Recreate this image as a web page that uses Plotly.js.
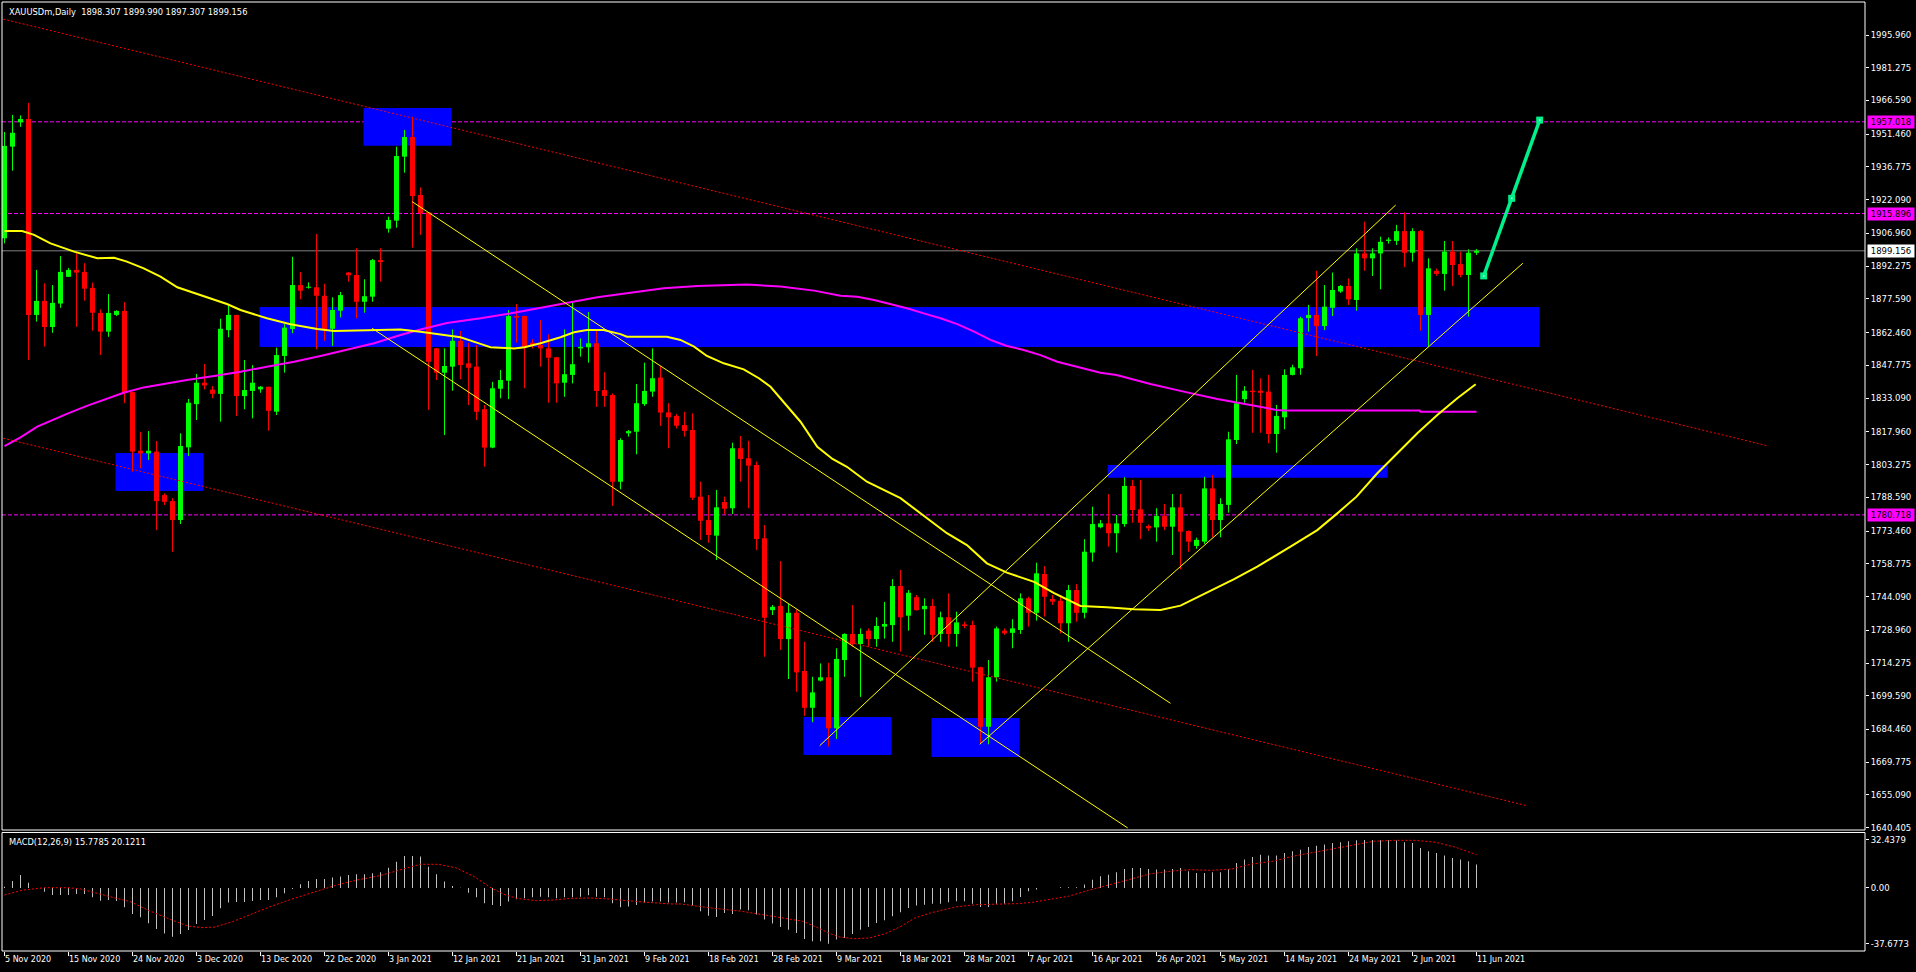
<!DOCTYPE html>
<html>
<head>
<meta charset="utf-8">
<script src="https://cdn.plot.ly/plotly-3.0.1.min.js"></script>
<style>
html,body{margin:0;padding:0;background:#000;overflow:hidden;}
#chart{width:1916px;height:972px;}
</style>
</head>
<body>
<div id="chart"></div>
<script>
// ---------- DATA ----------
const dateLabels = ["5 Nov 2020","15 Nov 2020","24 Nov 2020","3 Dec 2020","13 Dec 2020","22 Dec 2020","3 Jan 2021","12 Jan 2021","21 Jan 2021","31 Jan 2021","9 Feb 2021","18 Feb 2021","28 Feb 2021","9 Mar 2021","18 Mar 2021","28 Mar 2021","7 Apr 2021","16 Apr 2021","26 Apr 2021","5 May 2021","14 May 2021","24 May 2021","2 Jun 2021","11 Jun 2021"];
const barsPerLabel = 8;

const open = [
1904.8,1945.9,1956.8,1958.3,1870.4,1876.7,1865.0,1875.5,1887.5,1890.6,
1889.7,1882.5,1871.3,1862.9,1870.4,1872.2,1835.8,1809.5,1808.3,1809.1,
1789.6,1786.9,1778.4,1811.0,1830.4,1840.0,1836.9,1835.0,1863.6,1870.4,
1834.0,1836.3,1837.0,1838.2,1827.0,1852.0,1864.1,1883.8,1882.6,1882.8,
1879.0,1864.2,1872.3,1889.4,1888.3,1876.3,1878.6,1895.0,1909.1,1912.7,
1941.4,1950.2,1924.2,1916.3,1855.4,1844.5,1847.2,1858.8,1848.7,1847.2,
1828.1,1810.9,1837.3,1840.9,1869.9,1869.9,1857.9,1856.9,1855.4,1851.4,
1840.0,1843.5,1855.4,1855.9,1857.7,1836.7,1834.5,1795.6,1817.3,1818.0,
1830.4,1836.0,1842.3,1826.7,1825.1,1821.0,1818.8,1788.9,1778.4,1771.4,
1786.5,1783.7,1810.6,1806.1,1803.1,1770.2,1738.0,1739.9,1725.0,1736.8,
1710.7,1694.2,1706.4,1707.9,1685.0,1715.6,1727.3,1722.8,1728.8,1725.0,
1730.6,1731.3,1748.8,1735.5,1743.8,1738.4,1739.9,1727.3,1734.8,1727.3,
1731.6,1731.3,1712.4,1685.7,1707.9,1728.8,1727.8,1729.1,1743.3,1736.8,
1754.2,1743.0,1742.2,1732.1,1747.0,1736.8,1763.8,1775.2,1776.9,1772.5,
1776.6,1793.7,1783.2,1775.7,1775.1,1780.2,1775.4,1784.1,1773.5,1766.8,
1768.7,1792.6,1778.4,1785.2,1814.3,1832.6,1836.4,1836.4,1836.0,1817.0,
1824.5,1843.5,1846.5,1869.0,1870.4,1865.4,1873.6,1880.9,1883.4,1877.1,
1898.0,1895.8,1898.0,1903.6,1903.6,1908.0,1898.3,1908.0,1870.4,1890.2,
1888.8,1898.8,1893.2,1888.3,1898.307];
const high = [
1952.5,1960.1,1959.9,1965.5,1890.6,1884.6,1883.8,1896.8,1891.5,1898.0,
1893.6,1884.9,1872.9,1879.8,1872.5,1876.2,1836.0,1818.0,1818.3,1813.9,
1790.4,1788.2,1817.3,1832.7,1843.9,1848.4,1838.5,1868.7,1874.4,1870.4,
1850.2,1847.9,1838.5,1838.2,1855.7,1866.3,1896.5,1889.7,1885.0,1906.7,
1884.4,1878.3,1880.7,1889.7,1900.3,1886.4,1895.5,1900.3,1914.5,1945.9,
1953.4,1959.3,1927.6,1916.5,1855.6,1855.4,1863.9,1863.2,1857.9,1856.9,
1830.0,1840.4,1845.7,1872.6,1875.3,1870.1,1859.5,1868.1,1861.7,1851.6,
1863.9,1875.9,1859.9,1871.7,1863.3,1844.7,1835.2,1815.1,1818.8,1839.4,
1849.0,1855.4,1847.5,1830.8,1826.0,1827.0,1826.3,1795.6,1789.6,1791.9,
1788.9,1813.1,1816.1,1814.0,1804.6,1776.2,1740.3,1760.0,1740.7,1738.4,
1723.8,1708.1,1714.1,1714.4,1720.9,1727.6,1740.3,1729.8,1729.8,1734.8,
1741.7,1751.9,1756.0,1747.0,1744.8,1743.3,1742.9,1737.3,1745.5,1737.3,
1732.8,1733.3,1712.6,1715.6,1730.6,1729.8,1733.9,1745.5,1744.0,1759.3,
1757.8,1744.8,1744.8,1749.3,1749.7,1769.8,1784.4,1778.4,1790.1,1780.7,
1797.6,1796.4,1796.4,1776.4,1783.7,1785.6,1790.1,1790.1,1773.7,1770.5,
1797.8,1798.6,1788.2,1818.0,1843.5,1838.5,1845.7,1842.0,1843.5,1830.0,
1846.0,1848.1,1869.6,1874.9,1890.2,1883.8,1889.4,1883.8,1886.8,1900.3,
1912.2,1900.3,1905.5,1905.2,1910.8,1916.4,1909.3,1908.5,1895.8,1891.2,
1903.6,1903.6,1898.8,1899.8,1899.990];
const low = [
1902.5,1935.1,1954.8,1850.2,1867.4,1856.2,1862.4,1873.6,1887.4,1865.1,
1876.8,1863.3,1852.4,1860.6,1869.9,1830.8,1800.1,1801.6,1805.3,1773.9,
1785.2,1764.2,1776.6,1807.1,1823.3,1837.0,1833.0,1822.5,1860.4,1825.1,
1828.1,1824.0,1835.5,1818.5,1825.5,1844.5,1862.2,1877.4,1882.2,1855.0,
1858.8,1856.5,1869.3,1885.3,1868.9,1871.4,1876.3,1885.3,1907.3,1909.5,
1934.2,1900.6,1906.3,1827.8,1841.2,1816.5,1836.4,1841.5,1830.0,1823.3,
1802.3,1810.6,1833.0,1832.6,1857.9,1837.5,1855.4,1847.2,1831.0,1831.0,
1833.7,1839.7,1851.7,1849.0,1829.2,1829.2,1784.7,1792.2,1815.8,1807.9,
1829.6,1833.7,1820.6,1810.6,1819.5,1815.8,1787.4,1769.5,1768.2,1760.5,
1781.1,1781.1,1795.6,1783.7,1765.0,1717.1,1735.8,1720.1,1707.1,1701.4,
1690.6,1687.7,1706.0,1676.8,1680.2,1708.1,1721.6,1699.1,1721.6,1721.6,
1725.2,1723.8,1719.4,1728.8,1737.8,1726.9,1723.8,1723.8,1721.6,1721.6,
1729.9,1705.9,1678.3,1677.8,1705.9,1726.9,1720.9,1727.3,1730.6,1733.3,
1735.1,1740.3,1727.6,1723.8,1732.8,1734.3,1759.7,1774.7,1766.5,1763.8,
1775.4,1777.2,1769.8,1773.5,1768.7,1773.9,1762.7,1756.3,1764.2,1765.5,
1767.7,1770.7,1770.7,1781.7,1812.5,1831.0,1817.6,1817.6,1812.8,1808.6,
1819.1,1843.3,1843.5,1862.9,1852.0,1863.6,1869.9,1880.3,1874.9,1872.3,
1890.2,1887.9,1881.9,1902.4,1901.8,1891.8,1894.3,1863.3,1856.2,1888.0,
1881.3,1883.4,1887.3,1869.6,1897.307];
const close = [
1946.2,1952.1,1958.3,1870.4,1876.7,1865.0,1875.8,1889.7,1890.6,1889.4,
1882.2,1871.4,1862.9,1871.3,1872.2,1835.5,1809.1,1808.3,1809.5,1786.9,
1786.6,1778.4,1811.6,1831.0,1840.0,1838.8,1835.0,1864.2,1870.4,1834.0,
1836.7,1840.0,1838.2,1827.4,1852.4,1864.7,1883.8,1881.3,1882.9,1879.0,
1863.9,1872.6,1879.3,1888.2,1876.3,1878.8,1895.0,1894.1,1913.0,1941.7,
1950.2,1923.7,1916.0,1849.4,1844.5,1847.5,1858.8,1847.9,1846.7,1827.0,
1810.9,1837.5,1841.2,1869.9,1869.2,1856.1,1856.9,1855.4,1851.2,1839.7,
1843.8,1848.3,1856.1,1857.7,1836.3,1834.1,1795.6,1814.3,1818.3,1830.8,
1836.3,1842.0,1826.6,1824.5,1820.7,1818.4,1788.4,1778.1,1771.7,1784.1,
1783.5,1810.6,1805.8,1802.8,1769.9,1734.6,1739.5,1725.0,1736.8,1710.1,
1694.2,1701.1,1707.9,1685.0,1716.1,1727.3,1722.8,1727.3,1725.0,1730.9,
1731.8,1748.8,1734.8,1745.8,1738.0,1739.9,1726.9,1734.8,1727.3,1732.5,
1730.9,1712.2,1685.7,1707.9,1729.8,1727.6,1729.8,1743.3,1736.8,1754.5,
1744.0,1741.8,1732.1,1747.0,1736.8,1764.2,1776.6,1776.9,1772.5,1776.9,
1793.7,1782.9,1777.2,1774.7,1780.2,1775.4,1784.1,1773.2,1768.7,1769.5,
1792.6,1778.4,1785.6,1814.6,1830.8,1836.4,1835.8,1835.5,1817.0,1825.1,
1843.5,1846.9,1868.9,1870.4,1865.4,1874.1,1881.6,1883.4,1877.4,1898.0,
1895.8,1898.0,1903.2,1904.2,1908.0,1898.3,1908.0,1870.4,1891.3,1888.8,
1898.8,1892.8,1888.3,1898.3,1899.156];

// moving averages (bar position, value)
const maYellowBars = [0,2.2,3.7,5.75,8.7,11.6,13.7,15.3,17.4,19.5,21.6,24.5,27.8,29.5,32.8,35.75,39.1,41.2,45.3,49.5,52,53.7,57,59.5,60.75,63.7,65,67,69.5,71.2,72.8,74.9,77,77.8,82.8,84.5,86.2,87.8,89.9,92.4,94.3,95.75,97.8,99.5,101.6,103.5,105.3,107.8,112,114.5,117.8,120.3,122.8,125.3,128.7,131.2,134.5,137.8,141.2,144.5,147,153.7,156.6,160.75,164.1,166.6,169,171.6,174.1,176.6,179.1,181.6,183.9];
const maYellowVals = [1908.05,1908.05,1906.3,1902.5,1898.8,1895.8,1896.0,1894.3,1891.3,1887.6,1882.8,1879.3,1875.3,1872.6,1868.9,1866.2,1864.1,1863.2,1863.6,1863.9,1862.9,1862.1,1860.4,1857.4,1855.9,1855.4,1855.9,1857.7,1860.4,1862.6,1863.6,1863.6,1861.8,1860.6,1860.6,1859.2,1856.2,1852.0,1848.7,1846.0,1842.0,1838.2,1829.8,1822.5,1811.3,1805.8,1802.3,1795.6,1788.2,1781.4,1772.5,1767.2,1759.0,1754.8,1750.7,1745.6,1739.9,1739.3,1738.4,1738.1,1740.0,1751.9,1757.5,1766.5,1773.9,1781.4,1788.9,1799.4,1808.3,1817.3,1825.5,1833.0,1839.3];
const maMagentaBars = [0,2,4.1,5.75,7.8,10.3,12.4,14.9,17.4,20.3,22.8,26.2,29.5,32.8,36.2,39.5,42.8,46.2,49.5,52,55.3,59.5,63.7,67.8,71.2,74.1,78.25,82.4,86.6,92.8,97,101.2,104.5,106.6,108.7,110.75,112.8,114.9,117,119.1,121.2,123.25,125.3,127.4,129.5,131.6,133.7,137,139,143.25,147.4,151.6,155.75,159,160,176.9,177,184];
const maMagentaVals = [1811.6,1815.5,1820.3,1823.0,1826.0,1829.6,1832.2,1835.5,1837.9,1839.7,1841.2,1843.0,1844.9,1847.2,1849.4,1852.0,1854.7,1857.7,1861.4,1863.9,1866.8,1868.9,1871.4,1874.1,1876.3,1878.3,1880.4,1882.4,1883.4,1884.1,1883.1,1881.3,1879.0,1878.6,1877.1,1875.3,1873.4,1871.1,1868.9,1866.3,1862.9,1859.2,1856.5,1854.7,1852.4,1849.4,1847.5,1844.5,1843.5,1839.4,1836.0,1832.7,1830.0,1827.8,1827.5,1827.5,1827.0,1827.0];

// MACD(12,26,9): histogram per bar, signal line points
const macdHist = [
0.9,4.7,8.8,3.6,-0.2,-2.5,-4.7,-4.7,-4.7,-4.1,
-4.1,-6.3,-8.6,-8.1,-8.8,-13.1,-17.6,-19.8,-23.9,-27.7,
-30.7,-32.9,-31.1,-28.4,-24.3,-21.6,-18.9,-13.7,-9.9,-9.5,
-9.5,-8.8,-8.1,-8.1,-6.3,-3.6,-0.7,2.5,4.7,6.1,
6.1,7.0,7.7,8.8,9.2,9.2,9.9,10.6,13.7,17.8,
21.6,21.6,21.2,14.4,9.2,4.3,1.4,0.2,-3.2,-6.3,
-10.4,-11.5,-12.2,-9.2,-7.7,-7.0,-6.3,-5.9,-6.3,-7.0,
-6.3,-6.3,-5.9,-5.0,-5.9,-6.3,-10.4,-13.1,-12.6,-11.5,
-9.9,-9.2,-9.2,-9.9,-9.9,-9.7,-11.9,-15.8,-18.7,-19.6,
-16.9,-17.6,-14.6,-15.1,-18.0,-21.4,-24.1,-26.4,-28.2,-30.4,
-34.5,-36.1,-36.1,-37.7,-34.9,-33.8,-31.1,-28.2,-26.4,-23.7,
-21.9,-19.2,-16.5,-13.5,-11.9,-11.3,-10.6,-10.6,-9.7,-9.0,
-9.0,-10.6,-12.8,-12.8,-10.6,-10.6,-9.0,-6.1,-2.3,-1.1,
0.0,0.0,0.5,0.5,0.5,2.3,5.6,7.9,9.0,10.6,
12.8,13.5,13.5,12.8,12.4,12.4,12.8,13.5,11.3,10.1,
10.1,10.6,10.6,12.8,16.9,19.2,21.0,22.5,21.9,21.9,
23.7,24.8,25.9,27.7,28.6,29.3,30.4,30.9,31.6,32.2,
32.4,32.4,32.2,32.2,32.0,30.9,30.4,27.0,24.8,23.7,
21.9,20.3,19.2,18.0,15.8];
const signalBars = [0,2.3,5.1,7.9,9.5,11.8,14,15.7,17.9,20.7,22.9,24.6,26.3,28.5,30.75,33,35.8,38.6,41.4,44.1,46.9,49.7,52,54.2,56.4,58.7,60.9,62.6,64.2,66.5,68.7,70.9,73.2,75.4,77.6,79.9,83.2,84.5,88.3,92.2,94.7,97.3,99.8,101.7,103,104.3,106.2,108.1,110,111.9,113.8,115.75,117.7,118.9,121.5,124,126.6,128.5,130.4,133,135.5,138.1,140.6,143.2,145.7,148.3,150.8,153.4,155.9,158.5,161,163.6,166.1,168.7,171.2,173.8,176.3,178.9,181.4,184];
const signalVals = [-4.7,-1.4,0.2,0.2,-0.7,-4.1,-7.0,-9.2,-14.9,-21.2,-25.7,-26.8,-26.4,-22.8,-17.8,-13.1,-7.7,-3.2,1.8,5.4,8.3,12.6,16.0,16.0,13.7,7.7,-0.2,-4.7,-7.2,-8.6,-8.1,-7.0,-6.8,-7.4,-8.6,-9.5,-10.8,-10.8,-13.5,-15.8,-18.0,-20.3,-22.5,-27.0,-30.4,-33.1,-34.3,-33.8,-31.1,-26.4,-20.3,-16.9,-14.6,-12.8,-11.3,-10.8,-10.6,-9.7,-7.9,-5.6,-1.6,2.3,6.1,9.5,11.3,12.4,11.9,12.8,16.2,18.0,21.4,24.1,26.4,29.3,31.6,32.2,32.2,30.9,27.5,22.5];

// drawn objects: [bar0, price0, bar1, price1]
const redChannelLines = [[-0.16,2003.1,220.5,1811.6],[-0.16,1815.1,190.4,1650.2]];
const yellowTrendLines = [[50.96,1921.2,145.75,1696.2],[45.96,1864.4,140.4,1640.3],[101.9,1677.2,173.9,1919.7],[121.9,1677.8,189.8,1893.6]];
const projectionBars = [184.9,188.4,191.9];
const projectionPrices = [1887.9,1922.7,1957.8];
// zones: [barStart, barEnd, priceLow, priceHigh]
const zones = [[44.875,55.875,1946.3,1963.2],[13.875,24.875,1791.4,1808.5],[31.875,191.875,1856.0,1873.96],[99.875,110.875,1673.0,1690.1],[115.875,126.875,1672.1,1689.6],[137.9,172.9,1797.4,1803.1]];
const dashedLevels = [1957.018,1915.896,1780.718];
const lastPrice = 1899.156;

const priceTickLabels = ["1995.960","1981.275","1966.590","1951.460","1936.775","1922.090","1906.960","1892.275","1877.590","1862.460","1847.775","1833.090","1817.960","1803.275","1788.590","1773.460","1758.775","1744.090","1728.960","1714.275","1699.590","1684.460","1669.775","1655.090","1640.405"];
const macdTickLabels = ["32.4379","0.00","-37.6773"];
const titleText = "XAUUSDm,Daily\u00a0\u00a01898.307 1899.990 1897.307 1899.156";
const macdText = "MACD(12,26,9) 15.7785 20.1211";

// ---------- BUILD ----------
const FONT = 'DejaVu Sans';
const idx = open.map((_, i) => i);
const isUp = idx.map(i => close[i] >= open[i]);
const bodyBase = idx.map(i => Math.min(open[i], close[i]));
const bodyLen = idx.map(i => Math.max(Math.abs(close[i] - open[i]), 0.45));
const bodyColor = idx.map(i => isUp[i] ? '#00FF00' : '#FF0000');

function wicks(up) {
  const xs = [], ys = [];
  idx.forEach(i => { if (isUp[i] === up) { xs.push(i, i, null); ys.push(low[i], high[i], null); } });
  return {xs, ys};
}
const wUp = wicks(true), wDn = wicks(false);

const traces = [];
traces.push({type:'bar', x: idx, y: bodyLen, base: bodyBase, width: 0.625,
  marker:{color: bodyColor, line:{width:0}}, xaxis:'x', yaxis:'y', hoverinfo:'skip'});
traces.push({type:'bar', x: idx, y: macdHist, width: 0.125,
  marker:{color:'#C0C0C0', line:{width:0}}, xaxis:'x', yaxis:'y2', hoverinfo:'skip'});
traces.push({type:'scatter', mode:'lines', x: wUp.xs, y: wUp.ys, line:{color:'#00FF00', width:1}, connectgaps:false, hoverinfo:'skip', yaxis:'y'});
traces.push({type:'scatter', mode:'lines', x: wDn.xs, y: wDn.ys, line:{color:'#FF0000', width:1}, connectgaps:false, hoverinfo:'skip', yaxis:'y'});
traces.push({type:'scatter', mode:'lines', x: maMagentaBars, y: maMagentaVals, line:{color:'#FF00FF', width:2}, hoverinfo:'skip', yaxis:'y'});
traces.push({type:'scatter', mode:'lines', x: maYellowBars, y: maYellowVals, line:{color:'#FFFF00', width:2}, hoverinfo:'skip', yaxis:'y'});
redChannelLines.forEach(l => traces.push({type:'scatter', mode:'lines', x:[l[0], l[2]], y:[l[1], l[3]],
  line:{color:'#FF0000', width:1, dash:'2px,2px'}, hoverinfo:'skip', yaxis:'y'}));
yellowTrendLines.forEach(l => traces.push({type:'scatter', mode:'lines', x:[l[0], l[2]], y:[l[1], l[3]],
  line:{color:'#FFFF00', width:1}, hoverinfo:'skip', yaxis:'y'}));
traces.push({type:'scatter', mode:'lines+markers', x: projectionBars, y: projectionPrices,
  line:{color:'#00F08A', width:3.5}, marker:{symbol:'square', size:7, color:'#00F08A'}, hoverinfo:'skip', yaxis:'y'});
traces.push({type:'scatter', mode:'markers', x: projectionBars, y: projectionPrices,
  marker:{symbol:'square', size:1.5, color:'#C8FFE8'}, hoverinfo:'skip', yaxis:'y'});
traces.push({type:'scatter', mode:'lines', x: signalBars, y: signalVals, line:{color:'#FF0000', width:1, dash:'2px,2px'}, hoverinfo:'skip', xaxis:'x', yaxis:'y2'});

const shapes = [];
zones.forEach(z => shapes.push({type:'rect', xref:'x', yref:'y', x0:z[0], x1:z[1], y0:z[2], y1:z[3],
  fillcolor:'#0000FF', line:{width:0}, layer:'below'}));
dashedLevels.forEach(v => shapes.push({type:'line', xref:'paper', yref:'y', x0:0, x1:1, y0:v, y1:v,
  line:{color:'#FF00FF', width:1, dash:'4px,2px'}, layer:'below'}));
shapes.push({type:'line', xref:'paper', yref:'y', x0:0, x1:1, y0:lastPrice, y1:lastPrice,
  line:{color:'#808080', width:1}, layer:'below'});
shapes.push({type:'rect', xref:'paper', yref:'y domain', x0:0, x1:1, y0:0, y1:1, line:{color:'#FFFFFF', width:1}, fillcolor:'rgba(0,0,0,0)', layer:'above'});
shapes.push({type:'rect', xref:'paper', yref:'y2 domain', x0:0, x1:1, y0:0, y1:1, line:{color:'#FFFFFF', width:1}, fillcolor:'rgba(0,0,0,0)', layer:'above'});

const annotations = [];
annotations.push({xref:'paper', yref:'paper', x:0, y:1, xanchor:'left', yanchor:'top', xshift:5, yshift:-3,
  text: titleText, showarrow:false, font:{family:FONT, size:8.3, color:'#FFFFFF'}});
annotations.push({xref:'paper', yref:'y2 domain', x:0, y:1, xanchor:'left', yanchor:'top', xshift:5, yshift:-3,
  text: macdText, showarrow:false, font:{family:FONT, size:8.3, color:'#FFFFFF'}});
dashedLevels.forEach(v => annotations.push({xref:'paper', yref:'y', x:1, y:v, xanchor:'left', yanchor:'middle', xshift:2,
  text: v.toFixed(3), showarrow:false, bgcolor:'#FF00FF', borderpad:1, width:44, font:{family:FONT, size:8.5, color:'#000000'}}));
annotations.push({xref:'paper', yref:'y', x:1, y:lastPrice, xanchor:'left', yanchor:'middle', xshift:2,
  text: lastPrice.toFixed(3), showarrow:false, bgcolor:'#FFFFFF', borderpad:1, width:44, font:{family:FONT, size:8.5, color:'#000000'}});

const xTickFont = {family:FONT, size:8, color:'#FFFFFF'};
const yTickFont = {family:FONT, size:8.5, color:'#FFFFFF'};
const layout = {
  width:1916, height:972,
  paper_bgcolor:'#000000', plot_bgcolor:'#000000',
  margin:{l:2, r:51, t:2, b:21, pad:0},
  showlegend:false, barmode:'overlay', hovermode:false,
  font:{family:FONT, size:8, color:'#FFFFFF'},
  xaxis:{range:[-0.3125, 232.5625], anchor:'y2', showgrid:false, zeroline:false, showline:false,
    tickmode:'array', tickvals: dateLabels.map((_, i) => i * barsPerLabel), ticktext: dateLabels,
    ticks:'outside', ticklen:4, tickwidth:1, tickcolor:'#FFFFFF', ticklabelposition:'outside right',
    tickfont: xTickFont, fixedrange:true},
  yaxis:{domain:[0.1275, 1], range:[1639.38, 2010.76], side:'right', anchor:'x', showgrid:false, zeroline:false, showline:false,
    tickmode:'array', tickvals: priceTickLabels.map(Number), ticktext: priceTickLabels,
    ticks:'outside', ticklen:3, tickwidth:1, tickcolor:'#FFFFFF', tickfont: yTickFont, fixedrange:true},
  yaxis2:{domain:[0, 0.1249], range:[-42.61, 37.51], side:'right', anchor:'x', showgrid:false, zeroline:false, showline:false,
    tickmode:'array', tickvals: macdTickLabels.map(Number), ticktext: macdTickLabels,
    ticks:'outside', ticklen:3, tickwidth:1, tickcolor:'#FFFFFF', tickfont: yTickFont, fixedrange:true},
  shapes, annotations
};

Plotly.newPlot('chart', traces, layout, {displayModeBar:false, staticPlot:true});
</script>
</body>
</html>
